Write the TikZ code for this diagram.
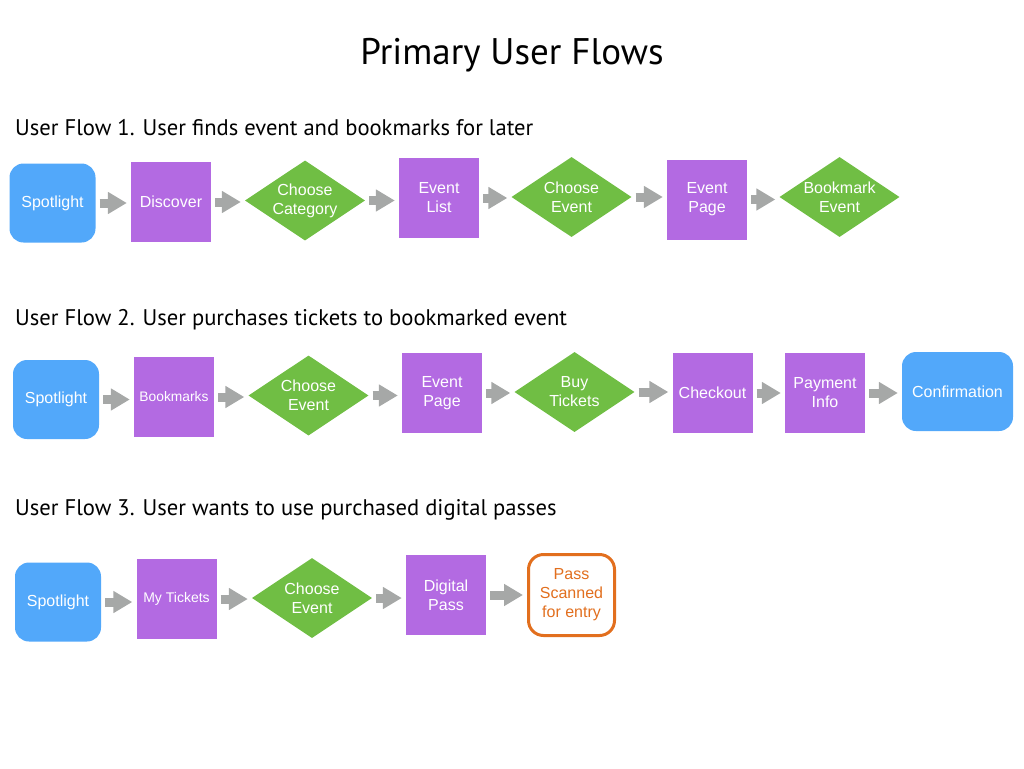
\documentclass[tikz,border=0pt]{standalone}
\usepackage{fontspec}
\setmainfont{Liberation Sans}
\newfontfamily\headfont{PT Sans}
\usetikzlibrary{shapes.geometric,arrows.meta}

\definecolor{spotblue}{RGB}{82,168,250}
\definecolor{screenviolet}{RGB}{179,106,226}
\definecolor{choicegreen}{RGB}{112,190,68}
\definecolor{flowgray}{RGB}{166,168,167}
\definecolor{doneorange}{RGB}{226,111,30}

\tikzset{
  txt/.style={font=\fontsize{16}{19}\selectfont, text=white, align=center, inner sep=0},
  startbox/.style={txt, fill=spotblue, rounded corners=14, minimum width=86, minimum height=79},
  screenbox/.style={txt, fill=screenviolet, minimum width=80, minimum height=80},
  choicebox/.style={txt, fill=choicegreen, shape=diamond, aspect=1.5, minimum width=120, minimum height=80},
  endbox/.style={txt, fill=white, draw=doneorange, line width=3, text=doneorange, rounded corners=15, minimum width=86, minimum height=81},
  flowarrow/.style={draw=flowgray, line width=9, -{Triangle[length=19,width=21]}, shorten <=4, shorten >=4},
  headline/.style={font=\headfont\fontsize{22.6}{26}\selectfont, anchor=base west, inner sep=0}
}

\begin{document}
\begin{tikzpicture}[x=1pt, y=-1pt]
  \useasboundingbox (0,0) rectangle (1024,768);

  \node[font=\headfont\fontsize{37}{44}\selectfont, anchor=base, inner sep=0] (title) at (512,64) {Primary User Flows};

  % flow 1
  \node[headline] (head1) at (15,135) {User Flow 1. User finds event and bookmarks for later};
  \node[startbox]  (a1) at (52.5,203) {Spotlight};
  \node[screenbox] (a2) at (171,202) {Discover};
  \node[choicebox] (a3) at (305,200.5) {Choose\\Category};
  \node[screenbox] (a4) at (439,198) {Event\\List};
  \node[choicebox] (a5) at (571.5,197) {Choose\\Event};
  \node[screenbox] (a6) at (707,199.5) {Event\\Page};
  \node[choicebox] (a7) at (839.5,197) {Bookmark\\Event};
  \foreach \i/\j in {1/2,2/3,3/4,4/5,5/6,6/7}
    \draw[flowarrow] (a\i.east) -- (a\i.east -| a\j.west);

  % flow 2
  \node[headline] (head2) at (15,325) {User Flow 2. User purchases tickets to bookmarked event};
  \node[startbox]  (b1) at (56,399.5) {Spotlight};
  \node[screenbox, font=\fontsize{13.8}{16}\selectfont] (b2) at (174,397) {Bookmarks};
  \node[choicebox] (b3) at (308.5,395.5) {Choose\\Event};
  \node[screenbox] (b4) at (442,393) {Event\\Page};
  \node[choicebox] (b5) at (574.5,392) {Buy\\Tickets};
  \node[screenbox] (b6) at (712.5,393) {Checkout};
  \node[screenbox] (b7) at (825,393) {Payment\\Info};
  \node[startbox, minimum width=111] (b8) at (957.5,391.5) {Confirmation};
  \foreach \i/\j in {1/2,2/3,3/4,4/5,5/6,6/7,7/8}
    \draw[flowarrow] (b\i.east) -- (b\i.east -| b\j.west);

  % flow 3
  \node[headline] (head3) at (15,515) {User Flow 3. User wants to use purchased digital passes};
  \node[startbox]  (c1) at (58,602) {Spotlight};
  \node[screenbox, font=\fontsize{14}{16}\selectfont] (c2) at (176.5,599) {My Tickets};
  \node[choicebox] (c3) at (312,598) {Choose\\Event};
  \node[screenbox] (c4) at (446,595) {Digital\\Pass};
  \node[endbox]    (c5) at (571.5,595) {Pass\\Scanned\\for entry};
  \foreach \i/\j in {1/2,2/3,3/4,4/5}
    \draw[flowarrow] (c\i.east) -- (c\i.east -| c\j.west);
\end{tikzpicture}
\end{document}
